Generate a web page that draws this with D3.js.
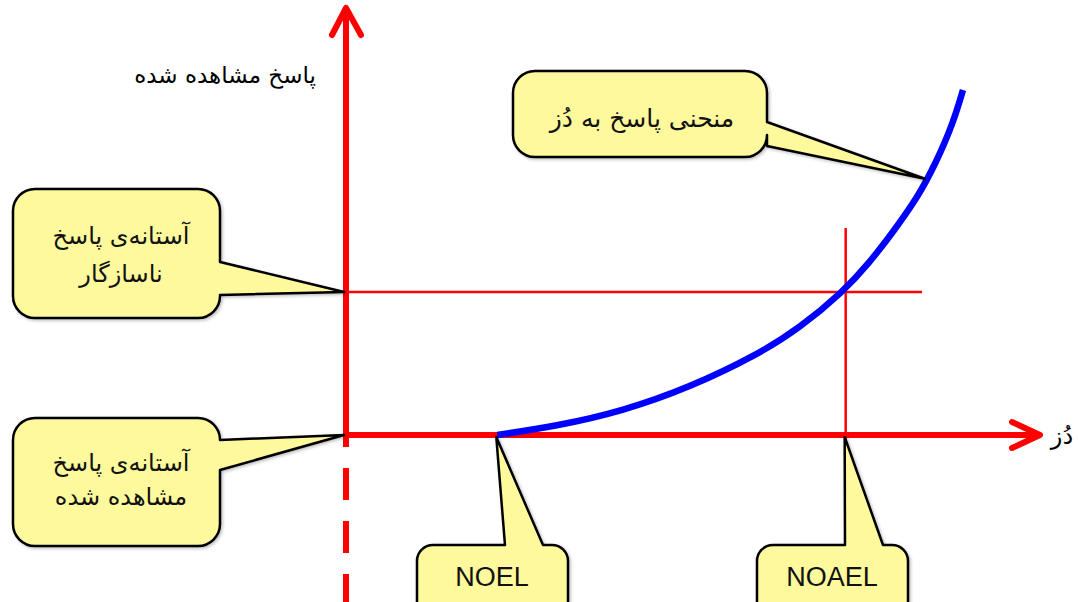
<!DOCTYPE html>
<html>
<head>
<meta charset="utf-8">
<script src="https://cdn.jsdelivr.net/npm/d3@7"></script>
<style>
  html, body { margin: 0; padding: 0; background: #ffffff; }
  svg { display: block; }
</style>
</head>
<body>
<div id="chart"></div>
<script>
// ---------- data (dose / response in arbitrary units, 0–100) ----------
const curveDose     = [21.8, 30.4, 39.9, 49.6, 59.2, 65.4, 71.6, 75.4, 78.8, 82.4, 85.0, 87.5, 88.9];
const curveResponse = [0,    2.1,  5.6,  11.2, 18.7, 25.1, 33.5, 40.3, 47.5, 55.7, 63.7, 73.1, 80.8];

const noelDose        = 21.8;   // NOEL
const noaelDose       = 72.0;   // NOAEL
const adverseResponse = 33.5;   // threshold of adverse response
const adverseLineEnd  = 83.0;   // horizontal guide extends to this dose
const noaelLineTop    = 48.5;   // vertical guide starts at this response

const axisXLabel  = "دُز";
const axisYLabel  = "پاسخ مشاهده شده";
const curveLabel  = ["منحنی پاسخ به دُز"];
const adverseLabel  = ["آستانه‌ی پاسخ", "ناسازگار"];
const observedLabel = ["آستانه‌ی پاسخ", "مشاهده شده"];
const noelLabel  = ["NOEL"];
const noaelLabel = ["NOAEL"];
const curveCalloutAnchor = {dose: 83.4, response: 60};

// ---------- layout ----------
const W = 1078, H = 602;
const svg = d3.select("#chart").append("svg").attr("width", W).attr("height", H);

const x = d3.scaleLinear().domain([0, 100]).range([346, 1040]);
const y = d3.scaleLinear().domain([0, 100]).range([435, 8]);

const RED = "#ff0000", BLUE = "#0000ff", FILL = "#fdf99c";
const FA = "'DejaVu Sans', sans-serif";

const defs = svg.append("defs");
const f = defs.append("filter").attr("id", "sh").attr("x", "-10%").attr("y", "-10%").attr("width", "130%").attr("height", "130%");
f.append("feDropShadow").attr("dx", 1.5).attr("dy", 1.5).attr("stdDeviation", 1.5)
  .attr("flood-color", "#000").attr("flood-opacity", 0.25);

// ---------- guides ----------
svg.append("line")
  .attr("x1", x(0)).attr("x2", x(adverseLineEnd))
  .attr("y1", y(adverseResponse)).attr("y2", y(adverseResponse))
  .attr("stroke", RED).attr("stroke-width", 2.5);
svg.append("line")
  .attr("x1", x(noaelDose)).attr("x2", x(noaelDose))
  .attr("y1", y(noaelLineTop)).attr("y2", H)
  .attr("stroke", RED).attr("stroke-width", 2.5);

// ---------- axes ----------
const ax = svg.append("g").attr("stroke", RED).attr("fill", "none")
  .attr("stroke-width", 6).attr("stroke-linecap", "round").attr("stroke-linejoin", "round");
ax.append("line").attr("x1", x(0)).attr("x2", x(0)).attr("y1", y(100)).attr("y2", 447)
  .attr("stroke-linecap", "butt");
ax.append("line").attr("x1", x(0)).attr("x2", x(0)).attr("y1", 468).attr("y2", H + 10)
  .attr("stroke-dasharray", "32,21").attr("stroke-linecap", "butt");
ax.append("line").attr("x1", x(0) - 3).attr("x2", x(100)).attr("y1", y(0)).attr("y2", y(0))
  .attr("stroke-linecap", "butt");
ax.append("polyline").attr("points", [[x(0) - 14, y(100) + 27], [x(0), y(100)], [x(0) + 15, y(100) + 27]].join(" "));
ax.append("polyline").attr("points", [[x(100) - 28, y(0) - 13], [x(100), y(0)], [x(100) - 28, y(0) + 13]].join(" "));

// ---------- curve ----------
const pts = curveDose.map((d, i) => [x(d), y(curveResponse[i])]);
svg.append("path")
  .attr("d", d3.line().curve(d3.curveBasis)(pts))
  .attr("fill", "none").attr("stroke", BLUE).attr("stroke-width", 6.5);

// ---------- axis labels ----------
svg.append("text").attr("x", 225).attr("y", 83).attr("text-anchor", "middle")
  .attr("font-family", FA).attr("font-size", 23).attr("fill", "#000").text(axisYLabel);
svg.append("text").attr("x", 1062).attr("y", 444).attr("text-anchor", "middle")
  .attr("font-family", FA).attr("font-size", 24).attr("fill", "#000").text(axisXLabel);

// ---------- callouts ----------
function calloutPath(b, side, a1, a2, tip) {
  const p = d3.path(), r = b.r;
  const {x0, y0, x1, y1} = b;
  p.moveTo(x0 + r, y0);
  if (side === "top") { p.lineTo(a1, y0); p.lineTo(tip[0], tip[1]); p.lineTo(a2, y0); }
  p.arcTo(x1, y0, x1, y0 + r, r);
  if (side === "right") { p.lineTo(x1, a1); p.lineTo(tip[0], tip[1]); p.lineTo(x1, a2); }
  p.arcTo(x1, y1, x1 - r, y1, r);
  p.arcTo(x0, y1, x0, y1 - r, r);
  p.arcTo(x0, y0, x0 + r, y0, r);
  p.closePath();
  return p.toString();
}

const LAT = "'Liberation Sans', Arial, sans-serif";
const callouts = [
  {box: {x0: 513, y0: 71, x1: 767, y1: 157, r: 22}, side: "right", a1: 122, a2: 146,
   tip: [x(curveCalloutAnchor.dose), y(curveCalloutAnchor.response)],
   lines: curveLabel, cx: 642, ys: [127], font: FA, size: 25},
  {box: {x0: 13, y0: 189, x1: 220, y1: 318, r: 22}, side: "right", a1: 262, a2: 295,
   tip: [x(0) - 2, y(adverseResponse)],
   lines: adverseLabel, cx: 121, ys: [244, 282], font: FA, size: 24},
  {box: {x0: 13, y0: 418, x1: 220, y1: 546, r: 22}, side: "right", a1: 440, a2: 470,
   tip: [x(0) - 2, y(0)],
   lines: observedLabel, cx: 121, ys: [471, 505], font: FA, size: 24},
  {box: {x0: 417, y0: 545, x1: 568, y1: 630, r: 16}, side: "top", a1: 505, a2: 543,
   tip: [x(noelDose) - 1, y(0) + 2],
   lines: noelLabel, cx: 492, ys: [586], font: LAT, size: 27},
  {box: {x0: 757, y0: 545, x1: 908, y1: 630, r: 16}, side: "top", a1: 845, a2: 883,
   tip: [x(noaelDose) - 1, y(0) + 2],
   lines: noaelLabel, cx: 832, ys: [586], font: LAT, size: 27}
];

const cg = svg.selectAll("g.callout").data(callouts).join("g").attr("class", "callout");
cg.append("path")
  .attr("d", d => calloutPath(d.box, d.side, d.a1, d.a2, d.tip))
  .attr("fill", FILL).attr("stroke", "#000").attr("stroke-width", 2.5)
  .attr("stroke-linejoin", "round").attr("filter", "url(#sh)");
cg.each(function(d) {
  const g = d3.select(this);
  d.lines.forEach((t, i) => {
    g.append("text").attr("x", d.cx).attr("y", d.ys[i]).attr("text-anchor", "middle")
      .attr("font-family", d.font).attr("font-size", d.size).attr("fill", "#111").text(t);
  });
});
</script>
</body>
</html>
